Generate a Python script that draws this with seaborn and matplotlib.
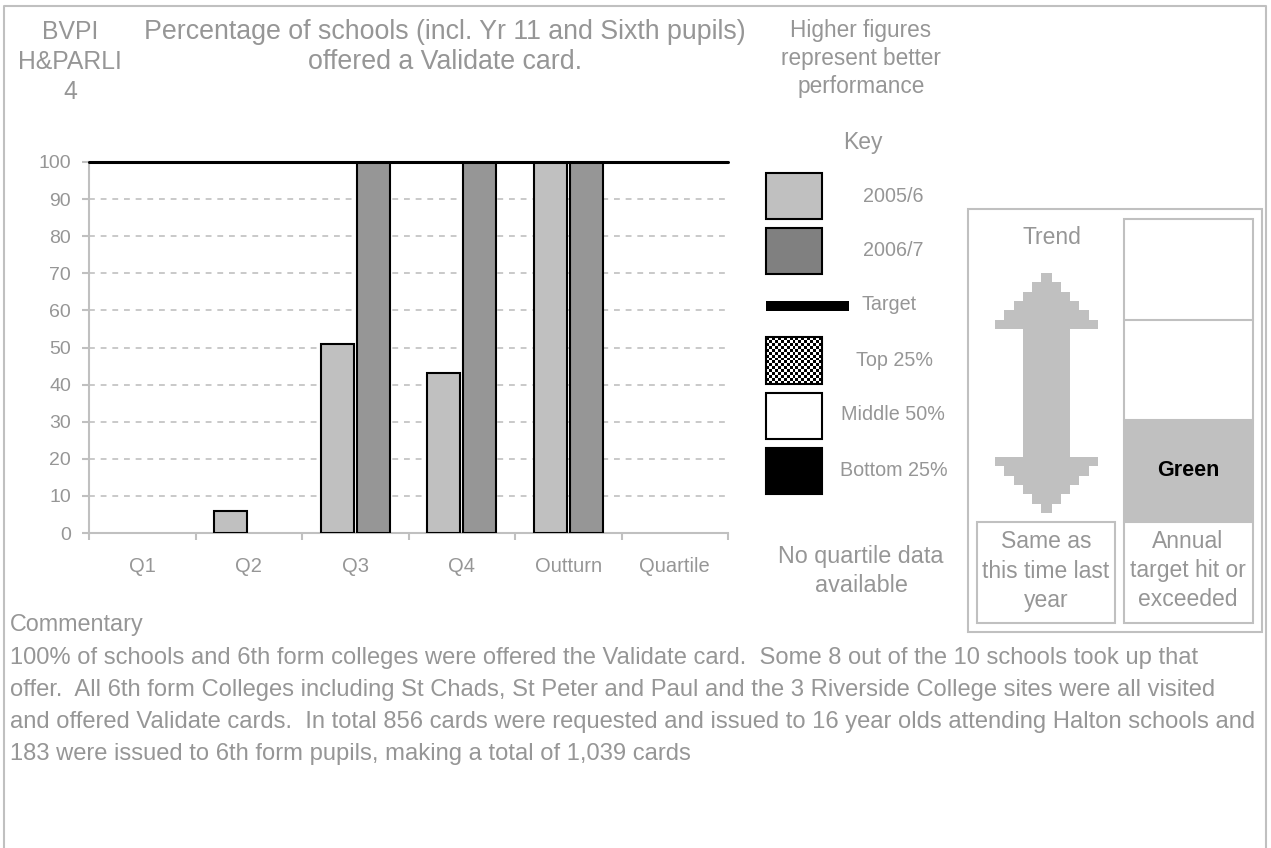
import numpy as np
import pandas as pd
import matplotlib
matplotlib.use('Agg')
import matplotlib.pyplot as plt
from matplotlib.patches import Rectangle, Polygon
import seaborn as sns

sns.set_theme(style='white')
plt.rcParams['font.family'] = ['Liberation Sans', 'DejaVu Sans']

# data
quarters = ['Q1', 'Q2', 'Q3', 'Q4', 'Outturn', 'Quartile']
years = ['2005/6', '2006/7']
vals_2005 = [0, 6, 51, 43, 100, 0]
vals_2006 = [0, 0, 100, 100, 100, 0]
target = 100
bar_colors = ['#c0c0c0', '#969696']

TXT = '#969696'
LINE = '#c0c0c0'
W, H = 1271, 848

df = pd.DataFrame({
    'quarter': quarters * 2,
    'value': vals_2005 + vals_2006,
    'year': [years[0]] * len(quarters) + [years[1]] * len(quarters),
})

fig = plt.figure(figsize=(W / 100, H / 100), dpi=100)

# overlay axes in pixel coords for the key / trend panel / commentary
ov = fig.add_axes([0, 0, 1, 1], zorder=0)
ov.set_xlim(0, W)
ov.set_ylim(H, 0)
ov.axis('off')

# main chart axes
x0, x1, ytop, ybot = 89, 728, 162, 533
ax = fig.add_axes([x0 / W, 1 - ybot / H, (x1 - x0) / W, (ybot - ytop) / H], zorder=1)
ax.patch.set_alpha(0)

sns.barplot(data=df, x='quarter', y='value', hue='year', order=quarters, hue_order=years,
            palette=bar_colors, width=0.67, gap=0.08, edgecolor='black', linewidth=1.5,
            errorbar=None, legend=False, saturation=1, ax=ax, zorder=3)
for p in ax.patches:
    if p.get_height() == 0:
        p.set_visible(False)

ax.set_xlim(-0.5, len(quarters) - 0.5)
ax.set_ylim(0, 100)
ax.set_yticks(range(0, 101, 10))
for yv in range(10, 100, 10):
    ax.axhline(yv, color=LINE, lw=1.2, ls=(0, (3.5, 3.5)), zorder=1)
ax.axhline(target, color='black', lw=2.2, zorder=5, clip_on=False)

ax.set_xlabel('')
ax.set_ylabel('')
for s in ['top', 'right']:
    ax.spines[s].set_visible(False)
for s in ['left', 'bottom']:
    ax.spines[s].set_color(LINE)
    ax.spines[s].set_linewidth(1.5)
ax.set_xticks(np.arange(-0.5, len(quarters)), minor=True)
ax.tick_params(axis='x', which='major', length=0, pad=17, labelsize=14.5, labelcolor=TXT)
ax.tick_params(axis='x', which='minor', length=5, width=1.5, color=LINE, direction='out', bottom=True)
ax.tick_params(axis='y', length=5, width=1.5, color=LINE, direction='out', left=True,
               pad=8, labelsize=14, labelcolor=TXT)

# outer border
ov.plot([4, 4, 1266, 1266], [H, 6, 6, H], color=LINE, lw=1.5)

# headings
for i, t in enumerate(['BVPI', 'H&PARLI', '4']):
    ov.text(70, 32 + 30 * i, t, ha='center', va='center', fontsize=17.8, color=TXT)
for i, t in enumerate(['Percentage of schools (incl. Yr 11 and Sixth pupils)', 'offered a Validate card.']):
    ov.text(445, 32 + 30 * i, t, ha='center', va='center', fontsize=19.3, color=TXT)
for i, t in enumerate(['Higher figures', 'represent better', 'performance']):
    ov.text(861, 30 + 28.5 * i, t, ha='center', va='center', fontsize=16.3, color=TXT)

# key
ov.text(863, 142, 'Key', ha='center', va='center', fontsize=16.5, color=TXT)
ov.add_patch(Rectangle((766, 173), 56, 46, fc='#c0c0c0', ec='black', lw=1.5))
ov.text(893, 196, years[0], ha='center', va='center', fontsize=14.2, color=TXT)
ov.add_patch(Rectangle((766, 228), 56, 46, fc='#808080', ec='black', lw=1.5))
ov.text(893, 250, years[1], ha='center', va='center', fontsize=14.2, color=TXT)
ov.add_patch(Rectangle((766, 301), 83, 10, fc='black', ec='black', lw=0))
ov.text(862, 305, 'Target', ha='left', va='center', fontsize=14.2, color=TXT)
checker = np.indices((16, 19)).sum(axis=0) % 2
ov.imshow(checker, extent=(766, 822, 384, 337), cmap='gray', interpolation='nearest',
          aspect='auto', zorder=2)
ov.add_patch(Rectangle((766, 337), 56, 47, fc='none', ec='black', lw=1.5, zorder=3))
ov.text(894, 360, 'Top 25%', ha='center', va='center', fontsize=14.2, color=TXT)
ov.add_patch(Rectangle((766, 393), 56, 46, fc='white', ec='black', lw=1.5))
ov.text(893, 415, 'Middle 50%', ha='center', va='center', fontsize=14.2, color=TXT)
ov.add_patch(Rectangle((766, 448), 56, 46, fc='black', ec='black', lw=1.5))
ov.text(894, 470, 'Bottom 25%', ha='center', va='center', fontsize=14.2, color=TXT)
for i, t in enumerate(['No quartile data', 'available']):
    ov.text(861, 556 + 29 * i, t, ha='center', va='center', fontsize=16.8, color=TXT)

# trend panel
ov.add_patch(Rectangle((968, 209), 294, 423, fc='none', ec=LINE, lw=1.5))
ov.text(1052, 237, 'Trend', ha='center', va='center', fontsize=16.5, color=TXT)
cx = 1046.5
rows = [5.5, 14.2, 23.3, 32.5, 42.2, 51.3]
step = (329.3 - 272.7) / len(rows)
shaft = 23.7
left, right = [], []
yy = 272.7
for hw in rows:
    left += [(cx - hw, yy), (cx - hw, yy + step)]
    right += [(cx + hw, yy), (cx + hw, yy + step)]
    yy += step
yb = 456.7
left += [(cx - shaft, 329.3), (cx - shaft, yb)]
right += [(cx + shaft, 329.3), (cx + shaft, yb)]
yy = yb
for hw in rows[::-1]:
    left += [(cx - hw, yy), (cx - hw, yy + step)]
    right += [(cx + hw, yy), (cx + hw, yy + step)]
    yy += step
ov.add_patch(Polygon(left + right[::-1], closed=True, fc='#c0c0c0', ec='none'))

ov.add_patch(Rectangle((977, 522), 138, 101, fc='none', ec=LINE, lw=1.5))
for i, t in enumerate(['Same as', 'this time last', 'year']):
    ov.text(1046, 542 + 29 * i, t, ha='center', va='center', fontsize=16.5, color=TXT)

ov.add_patch(Rectangle((1124, 420), 129, 102, fc='#c0c0c0', ec='none'))
ov.add_patch(Rectangle((1124, 219), 129, 404, fc='none', ec=LINE, lw=1.5))
for yv in [320, 420, 522]:
    ov.plot([1124, 1253], [yv, yv], color=LINE, lw=1.5)
ov.text(1188, 470, 'Green', ha='center', va='center', fontsize=15.5, color='black', fontweight='bold')
for i, t in enumerate(['Annual', 'target hit or', 'exceeded']):
    ov.text(1188, 542 + 29 * i, t, ha='center', va='center', fontsize=16.5, color=TXT)

# commentary
ov.text(10, 625, 'Commentary', ha='left', va='center', fontsize=16.8, color=TXT)
comment = [
    '100% of schools and 6th form colleges were offered the Validate card.  Some 8 out of the 10 schools took up that',
    'offer.  All 6th form Colleges including St Chads, St Peter and Paul and the 3 Riverside College sites were all visited',
    'and offered Validate cards.  In total 856 cards were requested and issued to 16 year olds attending Halton schools and',
    '183 were issued to 6th form pupils, making a total of 1,039 cards',
]
for i, t in enumerate(comment):
    ov.text(10, 658 + 32 * i, t, ha='left', va='center', fontsize=17.1, color=TXT)

ov.set_xlim(0, W)
ov.set_ylim(H, 0)
fig.savefig('out.png', dpi=100)
